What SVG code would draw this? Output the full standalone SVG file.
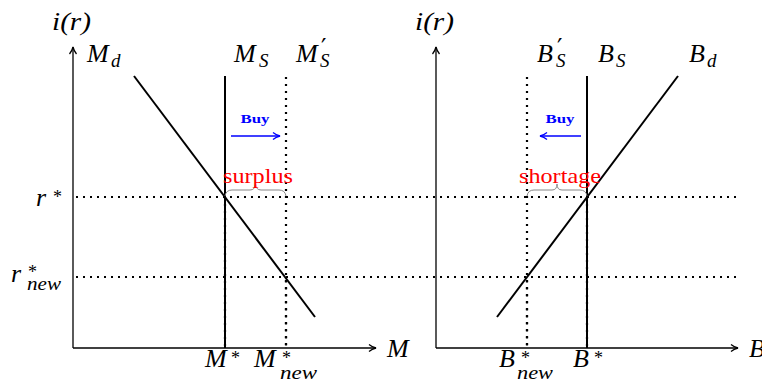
<svg xmlns="http://www.w3.org/2000/svg" width="762" height="383" viewBox="0 0 762 383">
<defs>
<style>
.ax{stroke:#000;stroke-width:1.3;fill:none}
.cur{stroke:#000;stroke-width:2;fill:none}
.dot{stroke:#000;stroke-width:2.2;fill:none;stroke-dasharray:2 5}
.buy{stroke:#00f;stroke-width:1.3;fill:none}
.brace{stroke:#888;stroke-width:1;fill:none}
.m{font-family:"Liberation Serif",serif;font-style:italic;font-size:26px;fill:#000}
.s{font-family:"Liberation Serif",serif;font-style:italic;font-size:19px}
.st{font-family:"Liberation Serif",serif;font-style:normal;font-size:18px}
.pr{font-family:"DejaVu Serif",serif;font-style:normal;font-size:24px}
.r{font-family:"Liberation Serif",serif;font-size:21px;fill:#f00}
.b{font-family:"Liberation Serif",serif;font-size:12px;font-weight:bold;fill:#00f}
</style>
<marker id="ah" markerWidth="10" markerHeight="10" refX="8" refY="5" orient="auto" markerUnits="userSpaceOnUse">
<path d="M1,1.5 Q4,4 8,5 Q4,6 1,8.5" fill="none" stroke="#000" stroke-width="1.3"/>
</marker>
<marker id="bh" markerWidth="10" markerHeight="10" refX="8" refY="5" orient="auto" markerUnits="userSpaceOnUse">
<path d="M1,1.5 Q4,4 8,5 Q4,6 1,8.5" fill="none" stroke="#00f" stroke-width="1.3"/>
</marker>
</defs>
<rect width="762" height="383" fill="#fff"/>

<g id="connectors">
<line class="ax" x1="73" y1="348" x2="73" y2="47" marker-end="url(#ah)"/>
<line class="ax" x1="73" y1="348" x2="376" y2="348" marker-end="url(#ah)"/>
<line class="ax" x1="436" y1="348" x2="436" y2="47" marker-end="url(#ah)"/>
<line class="ax" x1="436" y1="348" x2="738" y2="348" marker-end="url(#ah)"/>
<line class="dot" x1="76" y1="197" x2="740" y2="197"/>
<line class="dot" x1="76" y1="277" x2="740" y2="277"/>
<line class="cur" x1="134" y1="76" x2="315" y2="317"/>
<line class="cur" x1="225" y1="76" x2="225" y2="348"/>
<line class="dot" x1="225" y1="197" x2="225" y2="348"/>
<line class="dot" x1="286" y1="77" x2="286" y2="348"/>
<line class="dot" x1="286" y1="277" x2="286" y2="348" stroke-dashoffset="3.5"/>
<line class="buy" x1="231" y1="136" x2="280" y2="136" marker-end="url(#bh)"/>
<path class="brace" d="M225,196 Q226,190 232,190 L250,190 Q255,190 255.5,184 Q256,190 261,190 L279,190 Q285,190 286,196"/>
<line class="cur" x1="497" y1="317" x2="678" y2="76"/>
<line class="cur" x1="587" y1="76" x2="587" y2="348"/>
<line class="dot" x1="587" y1="197" x2="587" y2="348"/>
<line class="dot" x1="527" y1="77" x2="527" y2="348"/>
<line class="dot" x1="527" y1="277" x2="527" y2="348" stroke-dashoffset="3.5"/>
<line class="buy" x1="581" y1="136" x2="540" y2="136" marker-end="url(#bh)"/>
<path class="brace" d="M527,196 Q528,190 534,190 L552,190 Q557,190 557,184 Q557,190 562,190 L580,190 Q586,190 587,196"/>
</g>

<g id="left-labels">
<text class="m" x="52" y="30" textLength="39" lengthAdjust="spacingAndGlyphs">i(r)</text>
<text class="m" x="87" y="62">M<tspan class="s" x="111" y="67">d</tspan></text>
<text class="m" x="234" y="62">M<tspan class="s" x="259" y="67">S</tspan></text>
<text class="m" x="296" y="62">M<tspan class="pr" x="321" y="56">′</tspan><tspan class="s" x="320" y="67">S</tspan></text>
<text class="m" x="36" y="206">r<tspan class="st" x="53" y="203">*</tspan></text>
<text class="m" x="11" y="282">r<tspan class="st" x="28" y="278">*</tspan><tspan class="s" x="27" y="290" textLength="34" lengthAdjust="spacingAndGlyphs">new</tspan></text>
<text class="m" x="205" y="367">M<tspan class="st" x="231" y="364">*</tspan></text>
<text class="m" x="254" y="367">M<tspan class="st" x="282" y="364">*</tspan><tspan class="s" x="280" y="379" textLength="37" lengthAdjust="spacingAndGlyphs">new</tspan></text>
<text class="m" x="387" y="357">M</text>
<text class="b" x="255" y="123" text-anchor="middle" textLength="29" lengthAdjust="spacingAndGlyphs">Buy</text>
<text class="r" x="258" y="183" text-anchor="middle" textLength="70" lengthAdjust="spacingAndGlyphs">surplus</text>
</g>

<g id="right-labels">
<text class="m" x="415" y="30" textLength="39" lengthAdjust="spacingAndGlyphs">i(r)</text>
<text class="m" x="537" y="62">B<tspan class="pr" x="557" y="56">′</tspan><tspan class="s" x="556" y="67">S</tspan></text>
<text class="m" x="598" y="62">B<tspan class="s" x="616" y="67">S</tspan></text>
<text class="m" x="689" y="62">B<tspan class="s" x="707" y="67">d</tspan></text>
<text class="m" x="499" y="367">B<tspan class="st" x="521" y="364">*</tspan><tspan class="s" x="517" y="379" textLength="36" lengthAdjust="spacingAndGlyphs">new</tspan></text>
<text class="m" x="573" y="367">B<tspan class="st" x="594" y="364">*</tspan></text>
<text class="m" x="749" y="357">B</text>
<text class="b" x="560" y="123" text-anchor="middle" textLength="29" lengthAdjust="spacingAndGlyphs">Buy</text>
<text class="r" x="560" y="183" text-anchor="middle" textLength="82" lengthAdjust="spacingAndGlyphs">shortage</text>
</g>
</svg>
